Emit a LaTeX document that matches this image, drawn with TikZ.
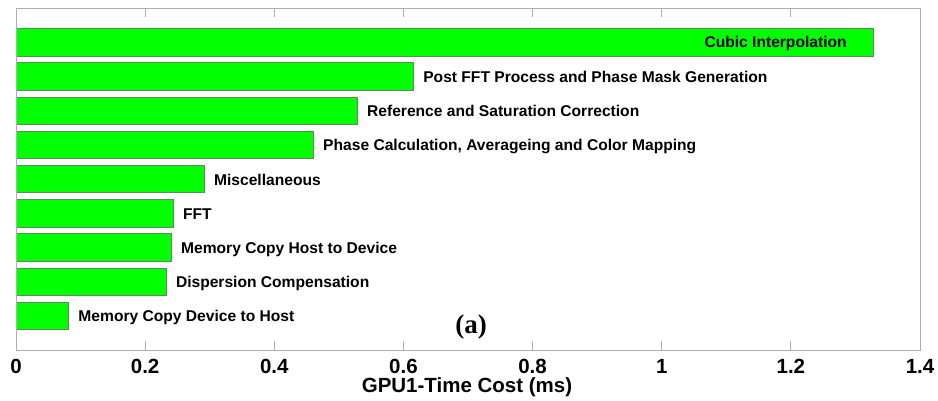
\documentclass[tikz,border=0pt]{standalone}
\usepackage{fontspec}
\setmainfont{Liberation Sans}
\newfontfamily\labelserif{Liberation Serif}
\definecolor{barfill}{RGB}{0,255,0}
\definecolor{baredge}{RGB}{90,140,90}
\definecolor{axisgray}{RGB}{175,175,175}
\begin{document}
\begin{tikzpicture}[x=1pt,y=-1pt,
  barbox/.style={fill=barfill,draw=baredge,line width=0.6pt},
  barlabel/.style={anchor=base west,inner sep=0pt,font=\fontsize{15.6}{18}\selectfont\bfseries},
  axisline/.style={draw=axisgray,line width=1pt},
  ticklabel/.style={anchor=base,inner sep=0pt,font=\fontsize{20.5}{24}\selectfont\bfseries},
  axistitle/.style={anchor=base,inner sep=0pt,font=\fontsize{20.5}{24}\selectfont\bfseries},
  panellabel/.style={anchor=base,inner sep=0pt,font=\fontsize{27}{30}\selectfont\labelserif\bfseries}]
  \useasboundingbox (0,0) rectangle (938,400);
  % axis box: value 0 at x=16, 1.4 at x=920; category rows from y=350 upwards
  \def\xo{16}\def\xs{645.714}\def\yb{350}\def\dy{34.2}\def\hh{13.68}
  \coordinate (origin) at (\xo,\yb);
  \coordinate (topright) at (920,8);
  % bars
  \foreach \v/\i/\nm in {1.327/9/cubic,0.615/8/postfft,0.528/7/refsat,0.460/6/phase,
      0.291/5/misc,0.243/4/fft,0.240/3/memhd,0.232/2/disp,0.081/1/memdh}{
    \draw[barbox] (\xo,{\yb-\i*\dy-\hh}) rectangle ({\xo+\v*\xs},{\yb-\i*\dy+\hh});
    \coordinate (\nm-end) at ({\xo+\v*\xs},{\yb-\i*\dy});
  }
  % bar labels
  \node[barlabel,anchor=base east] (l-cubic) at ([xshift=-26pt,yshift=-5pt]cubic-end) {Cubic Interpolation};
  \foreach \nm/\lab in {postfft/Post FFT Process and Phase Mask Generation,
      refsat/Reference and Saturation Correction,
      phase/{Phase Calculation, Averageing and Color Mapping},
      misc/Miscellaneous, fft/FFT, memhd/Memory Copy Host to Device,
      disp/Dispersion Compensation, memdh/Memory Copy Device to Host}{
    \node[barlabel] (l-\nm) at ([xshift=10pt,yshift=-6pt]\nm-end) {\lab};
  }
  % axes frame and ticks
  \draw[axisline] (origin) rectangle (topright);
  \foreach \t/\s in {0/0,0.2/0.2,0.4/0.4,0.6/0.6,0.8/0.8,1/1,1.2/1.2,1.4/1.4}{
    \draw[axisline] ({\xo+\t*\xs},\yb) -- ++(0,-9);
    \draw[axisline] ({\xo+\t*\xs},8) -- ++(0,9);
    \node[ticklabel] (tick-\s) at ({\xo+\t*\xs},373) {\s};
  }
  \node[axistitle] (xtitle) at (467,392) {GPU1-Time Cost (ms)};
  \node[panellabel] (panel) at (471,333) {(a)};
\end{tikzpicture}
\end{document}
